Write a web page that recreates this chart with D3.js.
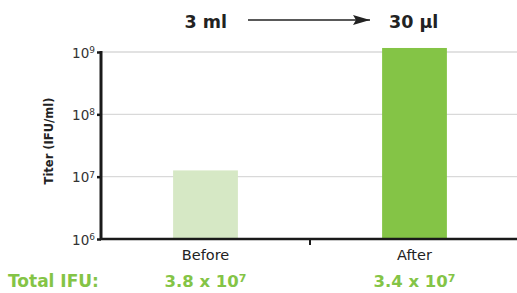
<!DOCTYPE html>
<html lang="en">
  <head>
    <meta charset="utf-8">
    <script src="https://cdn.jsdelivr.net/npm/d3@7"></script>
    <style>
      body { margin: 0; background: #fff; }
      svg text { font-family: "DejaVu Sans", Verdana, sans-serif; }
      .grid line { stroke: #d9d9d9; stroke-width: 1.3; }
    </style>
    <title></title>
  </head>
  <body>
    <script>
      var width = 517;
      var height = 293;

      var categories = ["Before", "After"];
      var titers = [1.26e7, 1.16e9];
      var totals = [["3.8 x 10", "7"], ["3.4 x 10", "7"]];
      var barColors = ["#d6e8c5", "#84c446"];
      var yTicks = [1e6, 1e7, 1e8, 1e9];
      var volumes = ["3 ml", "30 \u03bcl"];

      var svg = d3.select("body").append("svg")
        .attr("width", width).attr("height", height);

      var x = d3.scaleBand().domain(categories).range([101, 519]).paddingInner(0.69).paddingOuter(0.345);
      var y = d3.scaleLog().domain([1e6, 1e9]).range([239, 52]);

      // grid lines
      svg.append("g").attr("class", "grid")
        .selectAll("line")
        .data(yTicks.slice(1))
        .enter().append("line")
          .attr("x1", 101).attr("x2", width)
          .attr("y1", function(d){ return y(d); })
          .attr("y2", function(d){ return y(d); });

      // bars
      svg.append("g")
        .selectAll("rect")
        .data(titers)
        .enter().append("rect")
          .attr("x", function(d, i){ return x(categories[i]); })
          .attr("width", x.bandwidth())
          .attr("y", function(d){ return y(d); })
          .attr("height", function(d){ return y(1e6) - y(d); })
          .attr("fill", function(d, i){ return barColors[i]; });

      // y axis
      var yAxis = svg.append("g")
        .attr("transform", "translate(101,0)")
        .call(d3.axisLeft(y).tickValues(yTicks).tickSize(4).tickFormat(""));
      yAxis.select(".domain").attr("stroke", "#1a1a1a").attr("stroke-width", 3).attr("d", "M0,51V240");
      yAxis.selectAll(".tick line").attr("stroke", "#1a1a1a").attr("stroke-width", 2.5);
      yAxis.selectAll(".tick text").each(function(d){
        var t = d3.select(this).attr("x", -6).attr("dy", "0.38em")
          .attr("font-size", "13.5px").attr("fill", "#333");
        t.append("tspan").text("10");
        t.append("tspan").attr("dy", "-0.5em").attr("font-size", "9px").text(Math.round(Math.log10(d)));
      });

      // x axis
      var xAxis = svg.append("g")
        .attr("transform", "translate(0,239)")
        .call(d3.axisBottom(x).tickSize(0).tickPadding(11));
      xAxis.select(".domain").attr("stroke", "#1a1a1a").attr("stroke-width", 2.5).attr("d", "M100,0H" + width);
      xAxis.selectAll(".tick text").attr("font-size", "14.5px").attr("fill", "#222");
      xAxis.append("line")
        .attr("x1", (x("Before") + x("After") + x.bandwidth()) / 2)
        .attr("x2", (x("Before") + x("After") + x.bandwidth()) / 2)
        .attr("y1", 0).attr("y2", 6)
        .attr("stroke", "#1a1a1a").attr("stroke-width", 2);

      // y title
      svg.append("text")
        .attr("transform", "translate(53,141) rotate(-90)")
        .attr("text-anchor", "middle")
        .attr("font-size", "11.5px").attr("font-weight", "bold").attr("fill", "#222")
        .text("Titer (IFU/ml)");

      // volume labels and arrow
      svg.append("defs").append("marker")
        .attr("id", "head").attr("viewBox", "0 0 17 10")
        .attr("refX", 17).attr("refY", 5)
        .attr("markerWidth", 17).attr("markerHeight", 10)
        .attr("markerUnits", "userSpaceOnUse")
        .attr("orient", "auto")
        .append("path").attr("d", "M0,0L17,5L0,10L3,5Z").attr("fill", "#222");

      svg.append("text")
        .attr("x", 227).attr("y", 28).attr("text-anchor", "end")
        .attr("font-size", "17.5px").attr("font-weight", "bold").attr("fill", "#222")
        .text(volumes[0]);
      svg.append("line")
        .attr("x1", 248).attr("x2", 370).attr("y1", 20).attr("y2", 20)
        .attr("stroke", "#222").attr("stroke-width", 1.3)
        .attr("marker-end", "url(#head)");
      svg.append("text")
        .attr("x", 389).attr("y", 28)
        .attr("font-size", "17.5px").attr("font-weight", "bold").attr("fill", "#222")
        .text(volumes[1]);

      // totals
      svg.append("text")
        .attr("x", 8).attr("y", 287)
        .attr("font-size", "17px").attr("font-weight", "bold").attr("fill", "#84c446")
        .text("Total IFU:");

      svg.append("g")
        .selectAll("text")
        .data(totals)
        .enter().append("text")
          .attr("x", function(d, i){ return x(categories[i]) + x.bandwidth() / 2; })
          .attr("y", 287)
          .attr("text-anchor", "middle")
          .attr("font-size", "16.5px").attr("font-weight", "bold").attr("fill", "#84c446")
          .each(function(d){
            var t = d3.select(this);
            t.append("tspan").text(d[0]);
            t.append("tspan").attr("dy", "-0.45em").attr("font-size", "11px").text(d[1]);
          });
    </script>
  </body>
</html>
